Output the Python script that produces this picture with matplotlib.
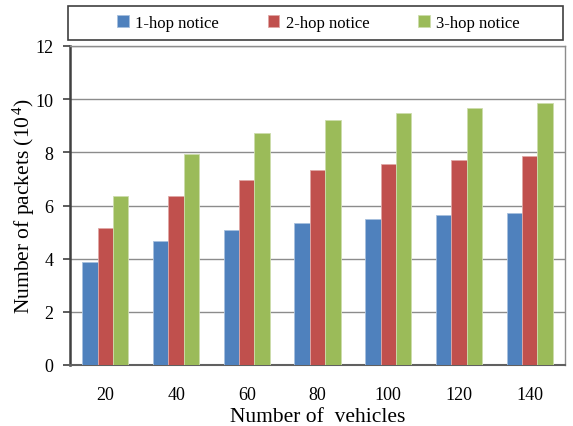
import matplotlib
matplotlib.use("Agg")
import matplotlib.pyplot as plt
import numpy as np
from matplotlib.patches import Rectangle

plt.rcParams['font.family'] = ['Liberation Serif', 'DejaVu Serif']
plt.rcParams['mathtext.fontset'] = 'custom'
plt.rcParams['mathtext.rm'] = 'Liberation Serif'
plt.rcParams['mathtext.it'] = 'Liberation Serif:italic'

categories = ['20', '40', '60', '80', '100', '120', '140']
series_names = ['1-hop notice', '2-hop notice', '3-hop notice']
hop1 = [3.88, 4.67, 5.06, 5.33, 5.48, 5.63, 5.71]
hop2 = [5.16, 6.35, 6.97, 7.33, 7.56, 7.71, 7.86]
hop3 = [6.35, 7.94, 8.73, 9.21, 9.48, 9.67, 9.86]
colors = ['#4F81BD', '#C0504D', '#9BBB59']
edge_colors = ['#A7C0DE', '#E0A8A6', '#CDDDAC']

fig = plt.figure(figsize=(5.73, 4.27), dpi=100)
ax = fig.add_axes([70/573, 1-366/427, 495/573, 319/427])

x = np.arange(len(categories))
w = 0.217
handles = []
for i, (vals, c, ec) in enumerate(zip([hop1, hop2, hop3], colors, edge_colors)):
    b = ax.bar(x + (i-1)*w, vals, width=w, color=c, edgecolor=ec, linewidth=0.6,
               zorder=3, label=series_names[i])
    handles.append(b)

ax.set_xlim(-0.5, len(categories)-0.5)
ax.set_ylim(0, 12)
ax.set_yticks(range(0, 13, 2))
ax.set_xticks(x)
ax.set_xticklabels(categories)
ax.yaxis.grid(True, color='#8C8C8C', linewidth=1.0, zorder=0)
ax.set_axisbelow(True)

for s in ['top', 'right']:
    ax.spines[s].set_color('#8C8C8C')
    ax.spines[s].set_linewidth(1.0)
ax.spines['left'].set_color('#404040')
ax.spines['left'].set_linewidth(1.8)
ax.spines['bottom'].set_color('#606060')
ax.spines['bottom'].set_linewidth(1.5)

ax.tick_params(axis='x', length=0, pad=15, labelsize=13)
ax.tick_params(axis='y', length=5, width=1.2, color='#404040', pad=7, labelsize=13, direction='out')

ax.set_xlabel('Number of  vehicles', fontsize=15.5, labelpad=3)
ax.set_ylabel('Number of packets (10$^{\\,4}$)', fontsize=15.5, labelpad=-1)

# legend frame
rect = Rectangle((68/573, 1-41/427), 495/573, 34/427, transform=fig.transFigure,
                 facecolor='white', edgecolor='#404040', linewidth=1.2)
fig.patches.append(rect)
fig.legend(handles=handles, labels=series_names, loc='center',
           bbox_to_anchor=((68+495/2 + 3)/573, 1-24/427), ncol=3, frameon=False,
           fontsize=12, handlelength=0.7, handleheight=0.7, handletextpad=0.4,
           columnspacing=2.9)

fig.savefig('out.png', dpi=100)
